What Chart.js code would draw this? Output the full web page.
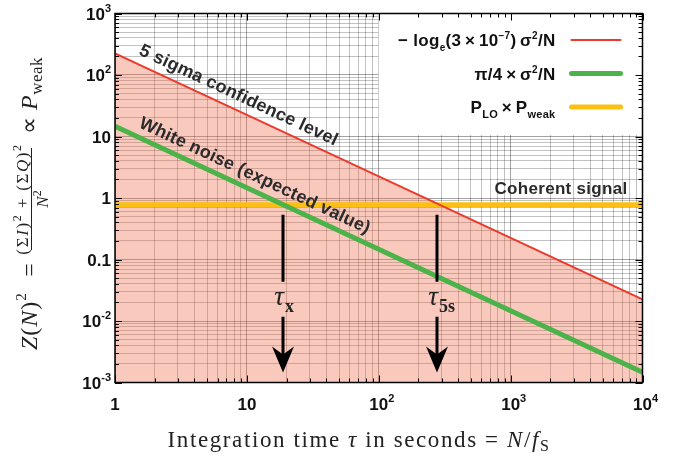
<!DOCTYPE html>
<html>
<head>
<meta charset="utf-8">
<script src="https://cdn.jsdelivr.net/npm/chart.js@4.4.0/dist/chart.umd.min.js"></script>
<style>
  body { margin: 0; background: #fff; }
  #wrap { width: 681px; height: 466px; }
</style>
</head>
<body>
<div id="wrap"><canvas id="plot" width="681" height="466"></canvas></div>
<script>
// integration time in seconds, one point per decade
const tau = [1, 10, 100, 1000, 10000];
// 5 sigma level, -ln(3e-7) sigma^2/N
const fiveSigma = [225, 22.5, 2.25, 0.225, 0.0225];
// white noise expected value, pi/4 sigma^2/N
const whiteNoise = [14.7, 1.47, 0.147, 0.0147, 0.00147];
// coherent signal P_LO x P_weak
const coherentTau = [1, 10000];
const coherent = [0.78, 0.78];
// where the arrows come down
const arrowTau = [18.7, 275];
const arrowSub = ['x', '5s'];

const xTickValues = [1, 10, 100, 1000, 10000];
const xTickLabels = [['1', ''], ['10', ''], ['10', '2'], ['10', '3'], ['10', '4']];
const yTickValues = [0.001, 0.01, 0.1, 1, 10, 100, 1000];
const yTickLabels = [['10', '-3'], ['10', '-2'], ['0.1', ''], ['1', ''], ['10', ''], ['10', '2'], ['10', '3']];

const SANS = '"Liberation Sans", Arial, sans-serif';
const SERIF = '"Liberation Serif", "Times New Roman", serif';

function pts(xs, ys) {
  return xs.map((x, i) => ({ x: x, y: ys[i] }));
}

// 1..9 in every decade, for the log grid
function logTicks(min, max) {
  const out = [];
  for (let e = Math.round(Math.log10(min)); e < Math.round(Math.log10(max)); e++) {
    for (let m = 1; m <= 9; m++) out.push({ value: m * Math.pow(10, e), major: m === 1 });
  }
  out.push({ value: max, major: true });
  return out;
}

// draw a row of [text, font, dy] pieces, ls = extra letter spacing
function rich(ctx, parts, x, y, align, ls) {
  ls = ls || 0;
  const wOf = t => ctx.measureText(t).width + ls * t.length;
  let w = 0;
  parts.forEach(p => { ctx.font = p[1]; w += wOf(p[0]); });
  let cx = align === 'right' ? x - w : (align === 'center' ? x - w / 2 : x);
  ctx.textAlign = 'left';
  ctx.textBaseline = 'alphabetic';
  parts.forEach(p => {
    ctx.font = p[1];
    for (const ch of p[0]) {
      ctx.fillText(ch, cx, y + (p[2] || 0));
      cx += ctx.measureText(ch).width + ls;
    }
  });
  return w;
}

const B17 = 'bold 17px ' + SANS;
const B10 = 'bold 10px ' + SANS;
const legendRows = [
  { parts: [['\u2212 log', B17], ['e', B10, 5], ['(3\u2009\u00d7\u200910', B17], ['\u22127', B10, -7], [')\u2009\u03c3', B17], ['2', B10, -7], ['/N', B17]], color: '#ee3a2c', width: 2 },
  { parts: [['\u03c0/4\u2009\u00d7\u2009\u03c3', B17], ['2', B10, -7], ['/N', B17]], color: '#4cb34a', width: 5 },
  { parts: [['P', B17], ['LO', 'bold 11px ' + SANS, 5], ['\u2009\u00d7\u2009P', B17], ['weak', 'bold 11px ' + SANS, 5]], color: '#fcbf12', width: 5 }
];

const decor = {
  id: 'decor',
  afterDraw(chart) {
    const ctx = chart.ctx;
    const a = chart.chartArea;
    const xs = chart.scales.x, ys = chart.scales.y;
    ctx.save();

    // legend box
    ctx.fillStyle = '#fff';
    ctx.fillRect(a.right - 264, a.top, 264, 121.5);

    // inward tick marks on all four sides
    ctx.strokeStyle = '#000';
    ctx.lineWidth = 1;
    ctx.beginPath();
    logTicks(1, 10000).forEach(t => {
      const px = Math.round(xs.getPixelForValue(t.value)) + 0.5, len = t.major ? 7 : 4;
      ctx.moveTo(px, a.bottom); ctx.lineTo(px, a.bottom - len);
      ctx.moveTo(px, a.top); ctx.lineTo(px, a.top + len);
    });
    logTicks(0.001, 1000).forEach(t => {
      const py = Math.round(ys.getPixelForValue(t.value)) + 0.5, len = t.major ? 7 : 4;
      ctx.moveTo(a.left, py); ctx.lineTo(a.left + len, py);
      ctx.moveTo(a.right, py); ctx.lineTo(a.right - len, py);
    });
    ctx.stroke();

    // frame
    ctx.lineWidth = 1.5;
    ctx.strokeRect(a.left, a.top, a.right - a.left, a.bottom - a.top);

    // tick labels
    ctx.fillStyle = '#111';
    yTickValues.forEach((v, i) => {
      const py = ys.getPixelForValue(v);
      const l = yTickLabels[i];
      rich(ctx, [[l[0], B17], [l[1], 'bold 11px ' + SANS, -8]], a.left - 4, py + 6, 'right');
    });
    xTickValues.forEach((v, i) => {
      const px = xs.getPixelForValue(v);
      const l = xTickLabels[i];
      ctx.font = B17;
      const w = ctx.measureText(l[0]).width;
      rich(ctx, [[l[0], B17], [l[1], 'bold 11px ' + SANS, -8]], px - w / 2, a.bottom + 27, 'left');
    });

    // legend entries
    legendRows.forEach((r, i) => {
      const cy = a.top + 26.5 + i * 33.5;
      ctx.fillStyle = '#111';
      rich(ctx, r.parts, a.right - 87, cy + 6, 'right', 0.3);
      ctx.strokeStyle = r.color;
      ctx.lineWidth = r.width;
      ctx.lineCap = 'round';
      ctx.beginPath();
      ctx.moveTo(a.right - 71, cy);
      ctx.lineTo(a.right - 22, cy);
      ctx.stroke();
    });
    ctx.lineCap = 'butt';

    // labels running along the two slanted lines
    [[fiveSigma, '5 sigma confidence level'], [whiteNoise, 'White noise (expected value)']].forEach(s => {
      const x1 = xs.getPixelForValue(tau[0]), y1 = ys.getPixelForValue(s[0][0]);
      const x2 = xs.getPixelForValue(tau[1]), y2 = ys.getPixelForValue(s[0][1]);
      const ang = Math.atan2(y2 - y1, x2 - x1);
      const px = xs.getPixelForValue(1.4);
      const py = y1 + (px - x1) * Math.tan(ang);
      ctx.save();
      ctx.translate(px, py);
      ctx.rotate(ang);
      ctx.fillStyle = '#2b2b2b';
      rich(ctx, [[s[1], 'bold 18px ' + SANS]], 0, -9, 'left', 0.2);
      ctx.restore();
    });

    // coherent signal label
    const yc = ys.getPixelForValue(coherent[0]);
    ctx.fillStyle = '#2b2b2b';
    rich(ctx, [['Coherent signal', B17]], a.right - 15, yc - 11, 'right', 0.3);

    // arrows
    arrowTau.forEach((v, i) => {
      const px = Math.round(xs.getPixelForValue(v));
      const top = yc + 10, tip = a.bottom - 10;
      ctx.strokeStyle = '#000';
      ctx.fillStyle = '#000';
      ctx.lineWidth = 3;
      ctx.beginPath();
      ctx.moveTo(px, top); ctx.lineTo(px, top + 67);
      ctx.moveTo(px, top + 102); ctx.lineTo(px, tip - 16);
      ctx.stroke();
      ctx.beginPath();
      ctx.moveTo(px, tip);
      ctx.lineTo(px - 11, tip - 26);
      ctx.lineTo(px, tip - 18);
      ctx.lineTo(px + 11, tip - 26);
      ctx.closePath();
      ctx.fill();
      ctx.fillStyle = '#222';
      ctx.font = 'italic 27px ' + SERIF;
      ctx.textAlign = 'right';
      ctx.fillText('\u03c4', px + 1, top + 90);
      ctx.font = 'bold 18px ' + SERIF;
      ctx.textAlign = 'left';
      ctx.fillText(arrowSub[i], px + 2, top + 97);
    });

    // x axis title
    ctx.fillStyle = '#222';
    const F = '23px ' + SERIF, FI = 'italic 23px ' + SERIF;
    rich(ctx, [['Integration time ', F], ['\u03c4', FI], [' in seconds = ', F], ['N', FI], ['/', F], ['f', FI], ['S', '16px ' + SERIF, 4]], 359, 447, 'center', 1.6);

    // y axis title, rotated
    ctx.save();
    ctx.translate(37, 351);
    ctx.rotate(-Math.PI / 2);
    const M = '24px ' + SERIF, MI = 'italic 24px ' + SERIF;
    rich(ctx, [['Z', MI], ['(', M], ['N', MI], [')', M], ['2', '15px ' + SERIF, -11]], 1, 0, 'left', 1);
    rich(ctx, [['=', M]], 81, 0, 'center');
    const S = '17px ' + SERIF, SI = 'italic 17px ' + SERIF, SS = '12px ' + SERIF;
    rich(ctx, [['(\u03a3', S], ['I', SI], [')', S], ['2', SS, -7], [' + ', S], ['(\u03a3', S], ['Q', SI], [')', S], ['2', SS, -7]], 152, -9, 'center', 1.6);
    ctx.fillRect(101, -6, 102, 1);
    rich(ctx, [['N', SI], ['2', SS, -7]], 152, 11, 'center');
    rich(ctx, [['\u221d', M]], 226, 0, 'center');
    rich(ctx, [['P', MI], ['weak', '17px ' + SERIF, 5]], 241, 0, 'left', 0.5);
    ctx.restore();

    ctx.restore();
  }
};

const gridColor = c => (c.tick && c.tick.major) ? 'rgba(0,0,0,0.36)' : 'rgba(0,0,0,0.24)';

new Chart(document.getElementById('plot'), {
  type: 'line',
  data: {
    datasets: [
      { label: 'white noise', data: pts(tau, whiteNoise), borderColor: '#4cb34a', borderWidth: 5, pointRadius: 0, fill: false, tension: 0 },
      { label: '5 sigma', data: pts(tau, fiveSigma), borderColor: '#ee3a2c', borderWidth: 2, pointRadius: 0, fill: 'start', backgroundColor: 'rgba(240,105,75,0.36)', tension: 0 },
      { label: 'coherent', data: pts(coherentTau, coherent), borderColor: '#fcbf12', borderWidth: 5, pointRadius: 0, fill: false, tension: 0 }
    ]
  },
  options: {
    responsive: false,
    animation: false,
    layout: { padding: { left: 115, right: 38.5, top: 13.5, bottom: 83.5 } },
    plugins: {
      legend: { display: false },
      tooltip: { enabled: false },
      filler: { drawTime: 'beforeDatasetsDraw' }
    },
    scales: {
      x: {
        type: 'logarithmic', min: 1, max: 10000,
        afterBuildTicks: s => { s.ticks = logTicks(1, 10000); },
        ticks: { display: false },
        grid: { color: gridColor, drawTicks: false },
        border: { display: false }
      },
      y: {
        type: 'logarithmic', min: 0.001, max: 1000,
        afterBuildTicks: s => { s.ticks = logTicks(0.001, 1000); },
        ticks: { display: false },
        grid: { color: gridColor, drawTicks: false },
        border: { display: false }
      }
    }
  },
  plugins: [decor]
});
</script>
</body>
</html>
